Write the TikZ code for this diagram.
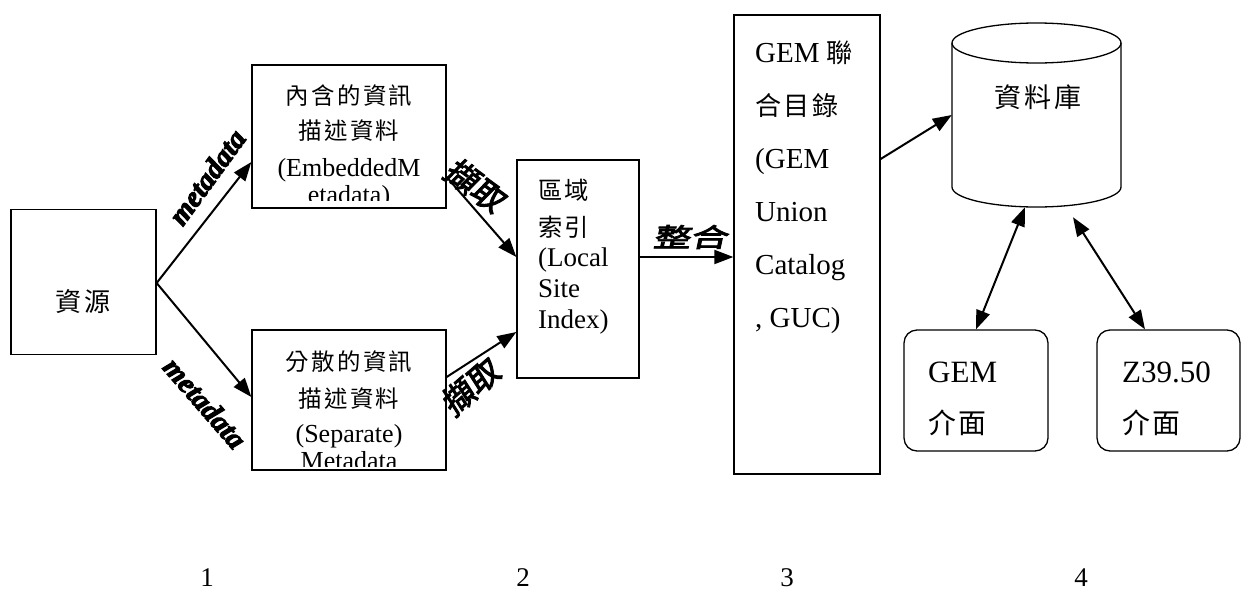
\documentclass[tikz,border=0pt]{standalone}
\usepackage{fontspec}
\setmainfont{Liberation Serif}
\newfontfamily\cjk[LetterSpace=10,Scale=0.9]{Noto Sans CJK TC}
\newfontfamily\cjkb[Scale=0.9,FakeBold=3,FakeSlant=0.15]{Noto Sans CJK TC}
\newfontfamily\metaf[FakeBold=3.5]{Liberation Serif}
\usetikzlibrary{arrows.meta}
\newcommand\zh[1]{{\cjk #1}}
\begin{document}
\begin{tikzpicture}[x=1pt,y=-1pt,
  box/.style={draw,line width=1.3pt,inner sep=0pt},
  rbox/.style={draw,line width=1.3pt,inner sep=0pt,rounded corners=13pt},
  arr/.style={line width=2pt,-{Triangle[length=19pt,width=14pt]}},
  darr/.style={line width=2pt,{Triangle[length=19pt,width=14pt]}-{Triangle[length=19pt,width=14pt]}},
  txt/.style={inner sep=0pt,anchor=base},
  meta/.style={inner sep=0pt,font=\metaf\bfseries\itshape\fontsize{29}{30}\selectfont},
  zhb/.style={inner sep=0pt,font=\cjkb\fontsize{36}{36}\selectfont},
  num/.style={inner sep=0pt,font=\fontsize{27}{28}\selectfont}]
\useasboundingbox (0,0) rectangle (1241,597);

% boxes
\node[box,minimum width=145pt,minimum height=145pt] (src) at (83.5,282) {};
\node[box,minimum width=194pt,minimum height=143pt] (emb) at (349,136.5) {};
\node[box,minimum width=194pt,minimum height=140pt] (sep) at (349,400) {};
\node[box,minimum width=122pt,minimum height=218pt] (lsi) at (578,269) {};
\node[box,minimum width=146pt,minimum height=459pt] (guc) at (807,244.5) {};
\node[inner sep=0pt,minimum width=169pt,minimum height=184pt] (db) at (1036.5,115) {};
\node[rbox,minimum width=144pt,minimum height=121pt] (gem) at (976,390.5) {};
\node[rbox,minimum width=143pt,minimum height=121pt] (z39) at (1168.5,390.5) {};

% cylinder
\draw[line width=1.3pt] (1036.5,43) ellipse [x radius=84.5, y radius=20];
\draw[line width=1.3pt] (952,43) -- (952,187)
  .. controls (952,198.05) and (989.83,207) .. (1036.5,207)
  .. controls (1083.17,207) and (1121,198.05) .. (1121,187) -- (1121,43);

% texts (base anchor = baseline of the last line)
\node[txt,font=\fontsize{29}{30}\selectfont] (srct) at (83,311) {\zh{資源}};
\begin{scope}
\clip (252,65) rectangle (446,200);
\node[txt,align=center,font=\fontsize{26}{27}\selectfont] (embt) at (349,203)
  {\zh{內含的資訊}\\[8pt]\zh{描述資料}\\[10pt](EmbeddedM\\etadata)};
\end{scope}
\begin{scope}
\clip (252,330) rectangle (446,466);
\node[txt,align=center,font=\fontsize{26}{27}\selectfont] (sept) at (349,469)
  {\zh{分散的資訊}\\[10pt]\zh{描述資料}\\[8pt](Separate)\\Metadata};
\end{scope}
\node[txt,anchor=base west,align=left,font=\fontsize{27}{31}\selectfont] (lsit) at (538,328)
  {\zh{區域}\\[6pt]\zh{索引}\\[-1pt](Local\\Site\\Index)};
\node[txt,anchor=base west,align=left,font=\fontsize{29}{53}\selectfont] (guct) at (755,327)
  {GEM \zh{聯}\\\zh{合目錄}\\(GEM\\Union\\Catalog\\, GUC)};
\node[txt,font=\fontsize{30}{31}\selectfont] (dbt) at (1038,107) {\zh{資料庫}};
\node[txt,anchor=base west,align=left,font=\fontsize{31}{51}\selectfont] (gemt) at (928,433)
  {GEM\\\zh{介面}};
\node[txt,anchor=base west,align=left,font=\fontsize{31}{51}\selectfont] (z39t) at (1122,433)
  {Z39.50\\\zh{介面}};

% connectors
\draw[arr] ([yshift=-1pt]src.east) -- ([yshift=-25.5pt]emb.west);
\draw[arr] ([yshift=-1pt]src.east) -- ([yshift=3pt]sep.west);
\draw[arr] ([yshift=-40.5pt]emb.east) -- ([yshift=12pt]lsi.west);
\draw[arr] ([yshift=23pt]sep.east) -- ([yshift=-63pt]lsi.west);
\draw[arr] ([yshift=12pt]lsi.east) -- ([yshift=12pt]lsi.east -| guc.west);
\draw[arr] ([yshift=85.5pt]guc.east) -- (db.west);
\draw[darr] ([xshift=-11.5pt]db.south) -- (gem.north);
\draw[darr] ([xshift=36.5pt,yshift=-10pt]db.south) -- ([xshift=-23.5pt]z39.north);

% connector labels
\node[meta,rotate=54] (m1) at (207,177) {metadata};
\node[meta,rotate=-49] (m2) at (205,403) {metadata};
\node[zhb,rotate=-36] (c1) at (475,185) {擷取};
\node[zhb,rotate=41] (c2) at (470,387) {擷取};
\node[zhb,xscale=1.15,yscale=0.8] (c3) at (690,237) {整合};

% column numbers
\node[num] (n1) at (207,578) {1};
\node[num] (n2) at (523,578) {2};
\node[num] (n3) at (787,578) {3};
\node[num] (n4) at (1081,578) {4};
\end{tikzpicture}
\end{document}
